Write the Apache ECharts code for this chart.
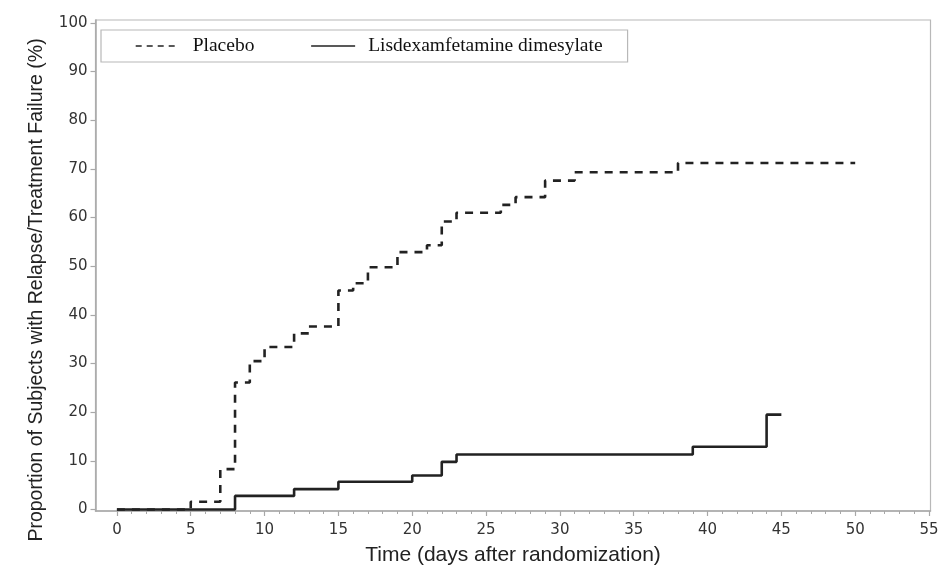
<!DOCTYPE html>
<html>
<head>
<meta charset="utf-8">
<script src="https://cdn.jsdelivr.net/npm/echarts@6/dist/echarts.min.js"></script>
<style>
  html, body { margin: 0; padding: 0; background: #fff; }
  #chart { width: 949px; height: 585px; }
</style>
</head>
<body>
<div id="chart"></div>
<script>
// ---- data ----
const placeboDays = [0, 5, 7, 8, 9, 10, 12, 13, 15, 16, 17, 19, 21, 22, 23, 26, 27, 29, 31, 38, 50];
const placeboPct  = [0, 1.6, 8.3, 26.1, 30.5, 33.4, 36.2, 37.6, 45.0, 46.5, 49.8, 52.9, 54.3, 59.2, 61.0, 62.6, 64.2, 67.6, 69.3, 71.2, 71.2];
const lisdexDays  = [0, 8, 12, 15, 20, 22, 23, 39, 44, 45];
const lisdexPct   = [0, 2.8, 4.2, 5.7, 7.0, 9.8, 11.3, 12.9, 19.5, 19.5];
const xTicks      = [0, 5, 10, 15, 20, 25, 30, 35, 40, 45, 50, 55];
const xMinorTicks = [0,1,2,3,4,5,6,7,8,9,10,11,12,13,14,15,16,17,18,19,20,21,22,23,24,25,26,27,28,29,30,31,32,33,34,35,36,37,38,39,40,41,42,43,44,45,46,47,48,49,50,51,52,53,54,55];
const yTicks      = [0, 10, 20, 30, 40, 50, 60, 70, 80, 90, 100];
const seriesNames = ['Placebo', 'Lisdexamfetamine dimesylate'];
const xTitle = 'Time (days after randomization)';
const yTitle = 'Proportion of Subjects with Relapse/Treatment Failure (%)';

const zip = (xs, ys) => xs.map((x, i) => [x, ys[i]]);

const X_MIN = -1.45, X_MAX = 55.1, Y_MIN = -0.3, Y_MAX = 100.6;
const axisGray = '#a8a8a8';
const labelFont = { fontFamily: 'DejaVu Sans', fontSize: 15, color: '#333' };

const chart = echarts.init(document.getElementById('chart'), null, { renderer: 'canvas' });
chart.setOption({
  animation: false,
  backgroundColor: '#fff',
  grid: {
    left: 95.5, right: 18.5, top: 20, bottom: 74,
    show: true, borderColor: '#b8b8b8', borderWidth: 1.2, containLabel: false
  },
  legend: {
    left: 101, top: 30,
    padding: [6, 25, 6, 34],
    borderColor: '#b8b8b8', borderWidth: 1.2,
    itemWidth: 44, itemHeight: 14, itemGap: 56,
    textStyle: { fontFamily: 'Liberation Serif', fontSize: 19.5, lineHeight: 18, color: '#111', padding: [0, 0, 0, 8] },
    itemStyle: { opacity: 0 },
    data: [
      { name: seriesNames[0], lineStyle: { type: [6, 5], width: 1.4, color: '#222' } },
      { name: seriesNames[1], lineStyle: { type: 'solid', width: 1.4, color: '#222' } }
    ]
  },
  xAxis: [
    {
      type: 'value', min: X_MIN, max: X_MAX,
      name: xTitle, nameLocation: 'middle', nameGap: 34,
      nameTextStyle: { fontFamily: 'Liberation Sans', fontSize: 21, color: '#222' },
      axisLine: { show: true, onZero: false, lineStyle: { color: axisGray, width: 1.5 } },
      axisTick: { show: true, customValues: xTicks, length: 5, lineStyle: { color: axisGray, width: 1.2 } },
      axisLabel: { show: true, customValues: xTicks, margin: 12, ...labelFont },
      splitLine: { show: false }
    },
    {
      type: 'value', min: X_MIN, max: X_MAX, position: 'bottom', offset: 0,
      axisLine: { show: false, onZero: false },
      axisTick: { show: true, customValues: xMinorTicks, length: 3, lineStyle: { color: axisGray, width: 1 } },
      axisLabel: { show: false },
      splitLine: { show: false }
    }
  ],
  yAxis: {
    type: 'value', min: Y_MIN, max: Y_MAX,
    axisLine: { show: true, onZero: false, lineStyle: { color: axisGray, width: 1.5 } },
    axisTick: { show: true, customValues: yTicks, length: 5, lineStyle: { color: axisGray, width: 1.2 } },
    axisLabel: { show: true, customValues: yTicks, margin: 8, ...labelFont },
    splitLine: { show: false }
  },
  graphic: [{
    type: 'text',
    x: 37, y: 290,
    rotation: Math.PI / 2,
    style: {
      text: yTitle,
      font: '19.5px "Liberation Sans"',
      fill: '#222',
      align: 'center',
      verticalAlign: 'middle'
    }
  }],
  series: [
    {
      name: seriesNames[0], type: 'line', step: 'end',
      data: zip(placeboDays, placeboPct),
      showSymbol: false, symbol: 'none',
      lineStyle: { color: '#222', width: 2.6, type: [8, 7] },
      itemStyle: { color: '#222' }
    },
    {
      name: seriesNames[1], type: 'line', step: 'end',
      data: zip(lisdexDays, lisdexPct),
      showSymbol: false, symbol: 'none',
      lineStyle: { color: '#222', width: 2.6, type: 'solid' },
      itemStyle: { color: '#222' }
    }
  ]
});
</script>
</body>
</html>
